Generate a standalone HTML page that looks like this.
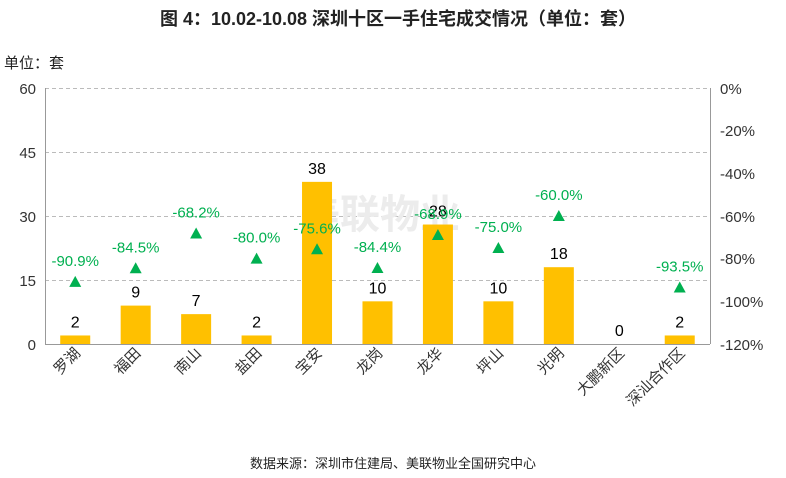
<!DOCTYPE html><html><head><meta charset="utf-8"><style>body{margin:0;background:#fff}svg{display:block}text{font-family:"Liberation Sans","Noto Sans CJK SC",sans-serif}</style></head><body>
<svg width="786" height="478" viewBox="0 0 786 478">
<text x="398" y="25" text-anchor="middle" font-size="18" font-weight="bold" fill="#222">图 4：10.02-10.08 深圳十区一手住宅成交情况（单位：套）</text>
<text x="4" y="68" font-size="15" fill="#222">单位：套</text>
<g stroke="#bbb" stroke-dasharray="4,3" stroke-width="1">
<line x1="45" y1="88.5" x2="710" y2="88.5"/><line x1="45" y1="152.5" x2="710" y2="152.5"/><line x1="45" y1="216.5" x2="710" y2="216.5"/><line x1="45" y1="280.5" x2="710" y2="280.5"/></g>
<line x1="45.5" y1="88" x2="45.5" y2="344" stroke="#999"/>
<line x1="710.5" y1="88" x2="710.5" y2="344" stroke="#999"/>
<line x1="45" y1="344.5" x2="710" y2="344.5" stroke="#999"/>
<g font-size="15" fill="#333" text-anchor="end">
<text x="36" y="94">60</text><text x="36" y="158">45</text><text x="36" y="222">30</text><text x="36" y="286">15</text><text x="36" y="350">0</text></g>
<g font-size="15" fill="#333">
<text x="720" y="94">0%</text><text x="720" y="136">-20%</text><text x="720" y="179">-40%</text><text x="720" y="222">-60%</text><text x="720" y="264">-80%</text><text x="720" y="307">-100%</text><text x="720" y="350">-120%</text></g>
<text x="380" y="228" text-anchor="middle" font-size="40" font-weight="bold" fill="#ececec">美联物业</text>
<g fill="#ffc000" id="bars"></g>
<g id="rest"></g>
<text x="393" y="468" text-anchor="middle" font-size="13" fill="#222">数据来源：深圳市住建局、美联物业全国研究中心</text>
</svg>
<script>
var names=["罗湖","福田","南山","盐田","宝安","龙岗","龙华","坪山","光明","大鹏新区","深汕合作区"];
var v=[2,9,7,2,38,10,28,10,18,0,2];
var p=[-90.9,-84.5,-68.2,-80.0,-75.6,-84.4,-68.9,-75.0,-60.0,null,-93.5];
var s="",b="";
for(var i=0;i<11;i++){var c=45+30.23+60.45*i;var y=344-v[i]*4.267;
if(v[i]>0)b+='<rect x="'+(c-15)+'" y="'+y+'" width="30" height="'+(344-y)+'"/>';
s+='<text x="'+c+'" y="'+(y-8)+'" text-anchor="middle" font-size="16" fill="#000">'+v[i]+'</text>';
if(p[i]!==null){var ty=88-p[i]*2.1333;
s+='<polygon points="'+(c-6)+','+(ty+5)+' '+(c+6)+','+(ty+5)+' '+c+','+(ty-6)+'" fill="#00b050"/>';
s+='<text x="'+c+'" y="'+(ty-16)+'" text-anchor="middle" font-size="15" fill="#00b050">'+p[i].toFixed(1)+'%</text>';}
s+='<text transform="translate('+(c+6)+',354) rotate(-45)" text-anchor="end" font-size="15" fill="#333">'+names[i]+'</text>';}
document.getElementById("bars").innerHTML=b;document.getElementById("rest").innerHTML=s;
</script>
</body></html>
